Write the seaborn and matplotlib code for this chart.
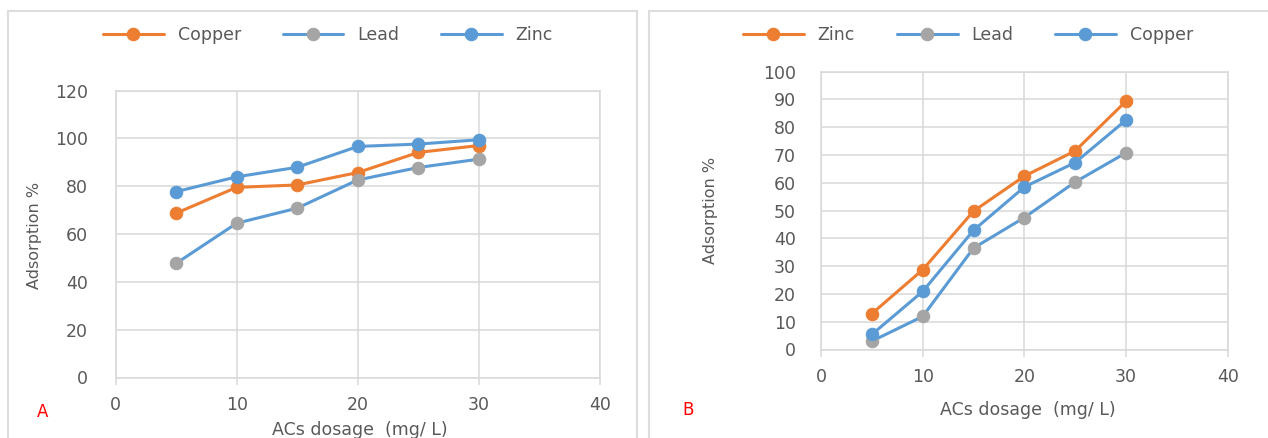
import matplotlib
matplotlib.use("Agg")
import matplotlib.pyplot as plt
from matplotlib.patches import Rectangle
import seaborn as sns
import pandas as pd

# ---- data ----
dosage = [5, 10, 15, 20, 25, 30]
a_copper = [68.7, 79.5, 80.5, 85.7, 94.1, 97.0]
a_lead = [47.7, 64.5, 70.8, 82.6, 87.8, 91.3]
a_zinc = [77.7, 83.9, 87.9, 96.6, 97.6, 99.4]
b_zinc = [12.9, 28.7, 49.8, 62.4, 71.5, 89.4]
b_lead = [3.0, 11.9, 36.5, 47.5, 60.3, 70.8]
b_copper = [5.4, 20.9, 42.9, 58.5, 67.3, 82.6]
a_xticks = [0, 10, 20, 30, 40]
a_yticks = [0, 20, 40, 60, 80, 100, 120]
b_yticks = [0, 10, 20, 30, 40, 50, 60, 70, 80, 90, 100]

ORANGE = "#ED7D31"
BLUE = "#5B9BD5"
GRAY = "#A5A5A5"
GRID = "#D9D9D9"
TXT = "#595959"

sns.set_theme(style="white")
plt.rcParams["font.family"] = ["DejaVu Sans"]

W, H = 1268, 438
fig = plt.figure(figsize=(W / 100, H / 100), dpi=100)

# panel borders
for x0, x1 in [(8, 637), (649, 1275)]:
    fig.add_artist(Rectangle((x0 / W, -0.05), (x1 - x0) / W, 1.05 - 11 / H,
                             transform=fig.transFigure, fill=False,
                             edgecolor="#DDDDDD", lw=1.5, zorder=0))


def panel(rect, series, yticks, ylim, legend_y, legend_x, letter, letter_xy, ylab_xy, xlab_xy, ypad):
    ax = fig.add_axes(rect)
    for name, vals, lc, mc in series:
        df = pd.DataFrame({"x": dosage, "y": vals})
        sns.lineplot(data=df, x="x", y="y", ax=ax, color=lc, lw=2.2,
                     marker="o", markersize=9, markerfacecolor=mc,
                     markeredgecolor=mc, label=name, zorder=3)
    ax.set_xlim(0, 40)
    ax.set_ylim(*ylim)
    ax.set_xticks(a_xticks)
    ax.set_yticks(yticks)
    ax.grid(True, color=GRID, lw=1.1)
    for s in ax.spines.values():
        s.set_color(GRID)
        s.set_linewidth(1.1)
    ax.tick_params(axis="x", length=5, width=1.1, color=GRID, direction="out",
                   labelsize=12.5, labelcolor=TXT, pad=8, bottom=True)
    ax.tick_params(axis="y", length=0, labelsize=12.5, labelcolor=TXT, pad=ypad)
    ax.set_xlabel("")
    ax.set_ylabel("")
    handles, labels = ax.get_legend_handles_labels()
    ax.get_legend().remove()
    fig.legend(handles, labels, loc="center", bbox_to_anchor=(legend_x / W, 1 - legend_y / H),
               ncol=3, frameon=False, fontsize=12.5, labelcolor=TXT,
               handlelength=3.5, columnspacing=2.4, handletextpad=0.8)
    fig.text(letter_xy[0] / W, 1 - letter_xy[1] / H, letter, color="red",
             fontsize=12, ha="center", va="center")
    fig.text(ylab_xy[0] / W, 1 - ylab_xy[1] / H, "Adsorption %", color=TXT,
             fontsize=11.5, rotation=90, ha="center", va="center")
    fig.text(xlab_xy[0] / W, 1 - xlab_xy[1] / H, "ACs dosage  (mg/ L)", color=TXT,
             fontsize=12.5, ha="center", va="center")
    return ax


panel([115.5 / W, 1 - 377.5 / H, (600 - 115.5) / W, (377.5 - 90.5) / H],
      [("Copper", a_copper, ORANGE, ORANGE),
       ("Lead", a_lead, BLUE, GRAY),
       ("Zinc", a_zinc, BLUE, BLUE)],
      a_yticks, (0, 120), 35, 328, "A", (43, 412), (34, 235), (360, 430), 20)

panel([821 / W, 1 - 349.5 / H, (1227.7 - 821) / W, (349.5 - 71.7) / H],
      [("Zinc", b_zinc, ORANGE, ORANGE),
       ("Lead", b_lead, BLUE, GRAY),
       ("Copper", b_copper, BLUE, BLUE)],
      b_yticks, (0, 100), 35, 968, "B", (688, 410), (710, 210), (1028, 410), 18)

fig.savefig("out.png", dpi=100, facecolor="white")
